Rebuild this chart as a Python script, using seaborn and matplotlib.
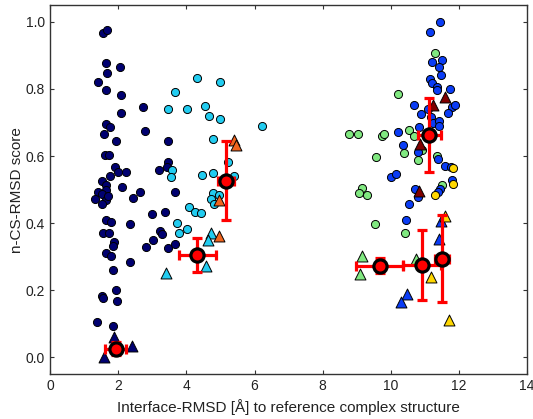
import numpy as np
import pandas as pd
import matplotlib
matplotlib.use("Agg")
from matplotlib import pyplot as plt
import seaborn as sns

# punkty - kolka (circles)
navy_x = [1.55, 1.67, 1.65, 2.04, 1.67, 1.41, 1.65, 2.09, 2.72, 2.07, 1.63, 1.75, 1.57, 2.78, 1.92, 3.46,
          1.60, 1.74, 3.46, 3.43, 3.19, 1.91, 1.99, 2.24, 1.77, 1.53, 1.65, 2.11, 1.41, 1.65, 1.53, 1.33,
          1.65, 1.53, 1.70, 2.65, 2.43, 3.68, 3.00, 3.36, 2.35, 1.65, 1.79, 1.55, 1.72, 3.22, 3.27, 3.02,
          2.80, 3.46, 3.66, 1.87, 1.84, 1.63, 1.78, 2.35, 1.86, 1.92, 1.53, 1.54, 1.96, 1.37, 1.86]
navy_y = [0.967, 0.975, 0.876, 0.864, 0.846, 0.820, 0.798, 0.781, 0.745, 0.729, 0.695, 0.687, 0.667, 0.674,
          0.645, 0.645, 0.603, 0.603, 0.583, 0.567, 0.557, 0.568, 0.553, 0.553, 0.540, 0.526, 0.513, 0.509,
          0.494, 0.499, 0.487, 0.472, 0.469, 0.457, 0.480, 0.494, 0.474, 0.494, 0.428, 0.432, 0.397, 0.410,
          0.403, 0.370, 0.370, 0.377, 0.368, 0.350, 0.330, 0.326, 0.339, 0.343, 0.331, 0.310, 0.301, 0.283,
          0.260, 0.200, 0.183, 0.176, 0.168, 0.105, 0.095]

cyan_x = [4.31, 4.99, 3.68, 3.47, 4.03, 4.54, 4.67, 4.98, 6.23, 4.77, 5.21, 3.57, 3.55, 4.46, 4.77, 5.41,
          4.77, 4.97, 4.72, 4.82, 4.07, 4.24, 4.43, 3.72, 3.78, 4.01]
cyan_y = [0.834, 0.821, 0.790, 0.741, 0.741, 0.749, 0.720, 0.710, 0.691, 0.650, 0.581, 0.558, 0.539, 0.544,
          0.550, 0.542, 0.489, 0.484, 0.471, 0.457, 0.448, 0.432, 0.430, 0.400, 0.370, 0.383]

green_x = [11.29, 10.20, 8.77, 9.03, 9.73, 9.79, 10.53, 10.67, 10.91, 10.40, 10.79, 9.55, 11.34, 11.50,
           9.16, 9.07, 9.30, 9.53, 10.42]
green_y = [0.908, 0.784, 0.665, 0.666, 0.659, 0.666, 0.679, 0.659, 0.617, 0.610, 0.588, 0.598, 0.599, 0.514,
           0.506, 0.489, 0.485, 0.398, 0.372]

blue_x = [11.43, 11.16, 11.21, 11.51, 11.41, 11.48, 11.15, 11.21, 11.34, 11.36, 11.75, 11.79, 11.89, 10.67,
          11.67, 10.89, 11.09, 11.18, 11.24, 11.40, 11.40, 10.83, 10.21, 10.36, 10.79, 11.37, 11.59, 11.78,
          11.79, 10.00, 10.16, 10.70, 10.81, 11.43, 11.38, 10.53, 10.45]
blue_y = [0.999, 0.970, 0.880, 0.885, 0.866, 0.840, 0.830, 0.819, 0.805, 0.796, 0.800, 0.747, 0.751, 0.751,
          0.727, 0.724, 0.739, 0.717, 0.697, 0.705, 0.689, 0.687, 0.672, 0.634, 0.612, 0.592, 0.570, 0.566,
          0.530, 0.538, 0.546, 0.502, 0.479, 0.502, 0.494, 0.458, 0.408]

yellow_x = [11.81, 11.81, 11.31]
yellow_y = [0.564, 0.516, 0.485]

# trojkaty (triangles)
navy_tri_x = [1.88, 2.41, 1.59]
navy_tri_y = [0.061, 0.034, 0.002]
cyan_tri_x = [3.40, 4.72, 4.62, 4.58]
cyan_tri_y = [0.250, 0.370, 0.349, 0.271]
orange_tri_x = [4.95, 4.95, 5.40, 5.45]
orange_tri_y = [0.362, 0.469, 0.648, 0.633]
darkred_tri_x = [11.58, 11.24, 10.87, 10.84]
darkred_tri_y = [0.776, 0.753, 0.635, 0.495]
green_tri_x = [9.14, 9.09, 10.75]
green_tri_y = [0.301, 0.248, 0.293]
blue_tri_x = [11.48, 11.40, 10.48, 10.29]
blue_tri_y = [0.405, 0.352, 0.190, 0.164]
yellow_tri_x = [11.58, 11.19, 11.70]
yellow_tri_y = [0.420, 0.240, 0.110]

# srednie z bledami
mean_x = [1.92, 4.32, 5.16, 11.13, 9.67, 10.91, 11.51]
mean_y = [0.026, 0.305, 0.527, 0.662, 0.273, 0.275, 0.294]
mean_xerr = [0.30, 0.55, 0.23, 0.33, 0.68, 0.55, 0.20]
mean_yerr = [0.020, 0.050, 0.118, 0.111, 0.023, 0.104, 0.130]

sns.set_style("ticks")
plt.rcParams['font.family'] = ['Liberation Sans', 'DejaVu Sans']
plt.rcParams['xtick.direction'] = 'in'
plt.rcParams['ytick.direction'] = 'in'

fig = plt.figure(figsize=(5.33, 4.19), dpi=100)
ax = fig.add_axes([0.094, 0.107, 0.895, 0.881])

circles = [(navy_x, navy_y, '#000070'), (cyan_x, cyan_y, '#22CCF0'),
           (green_x, green_y, '#80E880'), (blue_x, blue_y, '#0A3CF5'),
           (yellow_x, yellow_y, '#FFD700')]
for xs, ys, c in circles:
    sns.scatterplot(x=xs, y=ys, color=c, marker='o', s=34, edgecolor='black', linewidth=0.7, ax=ax, zorder=3)

tris = [(navy_tri_x, navy_tri_y, '#000070'), (cyan_tri_x, cyan_tri_y, '#22CCF0'),
        (orange_tri_x, orange_tri_y, '#F0641E'), (darkred_tri_x, darkred_tri_y, '#800000'),
        (green_tri_x, green_tri_y, '#80E880'), (blue_tri_x, blue_tri_y, '#0A3CF5'),
        (yellow_tri_x, yellow_tri_y, '#FFD700')]
for xs, ys, c in tris:
    sns.scatterplot(x=xs, y=ys, color=c, marker='^', s=62, edgecolor='black', linewidth=0.7, ax=ax, zorder=3)

ax.errorbar(mean_x, mean_y, xerr=mean_xerr, yerr=mean_yerr, fmt='o', color='red', ecolor='red',
            elinewidth=2.3, capsize=3.5, capthick=2.3, markersize=9.5, markerfacecolor='red',
            markeredgecolor='black', markeredgewidth=2.3, zorder=5)

ax.set_xlim(0, 14)
ax.set_ylim(-0.05, 1.05)
ax.set_xticks(np.arange(0, 15, 2))
ax.set_yticks([0.0, 0.2, 0.4, 0.6, 0.8, 1.0])
ax.set_yticklabels(['0.0', '0.2', '0.4', '0.6', '0.8', '1.0'])
ax.tick_params(top=True, right=True, labelsize=10, length=3, color='#333333', labelcolor='#222222')
for sp in ax.spines.values():
    sp.set_color('#333333')
    sp.set_linewidth(1.0)
ax.set_xlabel('Interface-RMSD [Å] to reference complex structure', fontsize=11, color='#222222')
ax.set_ylabel('n-CS-RMSD score', fontsize=11, labelpad=1, color='#222222')

plt.savefig('out.png', dpi=100)
